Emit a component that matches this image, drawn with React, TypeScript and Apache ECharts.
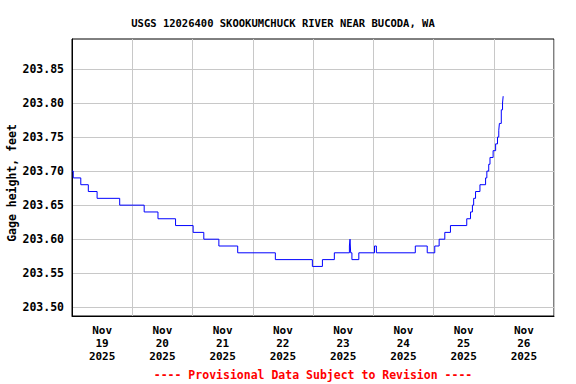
import React, { useEffect, useRef } from "react";
import * as echarts from "echarts";

const titleText = "USGS 12026400 SKOOKUMCHUCK RIVER NEAR BUCODA, WA";
const yAxisName = "Gage height, feet";
const footerText = "---- Provisional Data Subject to Revision ----";

const yTicks = [203.5, 203.55, 203.6, 203.65, 203.7, 203.75, 203.8, 203.85];
const yMin = 203.4872;
const yMax = 203.894;
const xStart = "2025-11-19 00:00";
const xEnd = "2025-11-27 00:00";

const times = [
  "2025-11-19 00:00", "2025-11-19 00:30", "2025-11-19 03:30", "2025-11-19 06:30",
  "2025-11-19 10:00", "2025-11-19 19:00", "2025-11-20 04:45", "2025-11-20 10:15",
  "2025-11-20 17:15", "2025-11-21 00:15", "2025-11-21 04:30", "2025-11-21 10:30",
  "2025-11-21 18:00", "2025-11-22 09:00", "2025-11-22 23:45", "2025-11-23 03:45",
  "2025-11-23 08:30", "2025-11-23 14:30", "2025-11-23 14:45", "2025-11-23 15:00",
  "2025-11-23 15:30", "2025-11-23 18:15", "2025-11-24 00:30", "2025-11-24 01:15",
  "2025-11-24 16:45", "2025-11-24 21:30", "2025-11-25 00:30", "2025-11-25 02:15",
  "2025-11-25 04:30", "2025-11-25 06:45", "2025-11-25 13:15", "2025-11-25 14:45",
  "2025-11-25 15:30", "2025-11-25 16:00", "2025-11-25 16:45", "2025-11-25 18:30",
  "2025-11-25 20:45", "2025-11-25 21:15", "2025-11-25 22:00", "2025-11-25 22:30",
  "2025-11-25 23:45", "2025-11-26 00:45", "2025-11-26 01:30", "2025-11-26 02:00",
  "2025-11-26 02:15", "2025-11-26 03:00", "2025-11-26 03:30", "2025-11-26 03:45",
];

const values = [
  203.70, 203.69, 203.68, 203.67,
  203.66, 203.65, 203.64, 203.63,
  203.62, 203.61, 203.60, 203.59,
  203.58, 203.57, 203.56, 203.57,
  203.58, 203.59, 203.60, 203.58,
  203.57, 203.58, 203.59, 203.58,
  203.59, 203.58, 203.59, 203.60,
  203.61, 203.62, 203.63, 203.64,
  203.65, 203.66, 203.67, 203.68,
  203.69, 203.70, 203.71, 203.72,
  203.73, 203.74, 203.75, 203.76,
  203.77, 203.79, 203.80, 203.81,
];

const MONTHS = ["Jan", "Feb", "Mar", "Apr", "May", "Jun", "Jul", "Aug", "Sep", "Oct", "Nov", "Dec"];
const DAY = 86400000;

function parseTime(s: string): number {
  const [d, t] = s.split(" ");
  const [y, m, dd] = d.split("-").map(Number);
  const [hh, mm] = t.split(":").map(Number);
  return Date.UTC(y, m - 1, dd, hh, mm);
}

const FONT = "'DejaVu Sans Mono', 'Liberation Mono', monospace";

export default function App() {
  const ref = useRef<HTMLDivElement>(null);
  useEffect(() => {
    if (!ref.current) return;
    const chart = echarts.init(ref.current, null, { renderer: "svg" });
    const xmin = parseTime(xStart);
    const xmax = parseTime(xEnd);
    const data = times.map((t, i) => [parseTime(t), values[i]]);
    chart.setOption({
      animation: false,
      backgroundColor: "#ffffff",
      title: {
        text: titleText,
        left: 278,
        top: 12,
        textAlign: "center",
        textStyle: { fontFamily: FONT, fontSize: 10.5, fontWeight: "bold", color: "#000" },
      },
      graphic: [
        {
          type: "text",
          x: 313,
          y: 375,
          style: {
            text: footerText,
            fill: "#ff0000",
            font: `bold 11.5px ${FONT}`,
            textAlign: "center",
            textVerticalAlign: "middle",
          },
        },
        {
          type: "text",
          x: 12,
          y: 183,
          rotation: Math.PI / 2,
          style: {
            text: yAxisName,
            fill: "#000",
            font: `bold 11.5px ${FONT}`,
            textAlign: "center",
            textVerticalAlign: "middle",
          },
        },
      ],
      grid: {
        left: 72,
        top: 39,
        width: 482,
        height: 277,
        show: true,
        borderColor: "#000",
        borderWidth: 1,
        containLabel: false,
        outerBoundsMode: "none",
      },
      xAxis: [
        {
          type: "value",
          min: xmin,
          max: xmax,
          interval: DAY,
          axisLine: { show: true, lineStyle: { color: "#000" } },
          axisTick: { show: false },
          axisLabel: { show: false },
          splitLine: { show: true, lineStyle: { color: "#c8c8c8", width: 1 } },
        },
        {
          type: "value",
          position: "bottom",
          min: xmin,
          max: xmax,
          interval: DAY / 2,
          axisLine: { show: false },
          axisTick: { show: false },
          splitLine: { show: false },
          axisLabel: {
            show: true,
            margin: 8,
            fontFamily: FONT,
            fontSize: 11,
            fontWeight: "bold",
            color: "#000",
            lineHeight: 13,
            formatter: (v: number) => {
              const rel = Math.round((v - xmin) / (DAY / 2));
              if (rel % 2 === 0) return "";
              const d = new Date(v);
              return `${MONTHS[d.getUTCMonth()]}\n${d.getUTCDate()}\n${d.getUTCFullYear()}`;
            },
          },
        },
      ],
      yAxis: {
        type: "value",
        min: yMin,
        max: yMax,
        axisLine: { show: true, lineStyle: { color: "#000" } },
        axisTick: { show: false, customValues: yTicks },
        axisLabel: {
          customValues: yTicks,
          margin: 8,
          fontFamily: FONT,
          fontSize: 11.5,
          fontWeight: "bold",
          color: "#000",
          formatter: (v: number) => v.toFixed(2),
        },
        splitLine: { show: true, lineStyle: { color: "#c8c8c8", width: 1 } },
      },
      series: [
        {
          type: "line",
          xAxisIndex: 0,
          data,
          step: "end",
          showSymbol: false,
          symbol: "none",
          lineStyle: { color: "#0000ff", width: 1 },
          clip: true,
        },
      ],
    });
    return () => chart.dispose();
  }, []);
  return (
    <div
      ref={ref}
      style={{ position: "absolute", left: 0, top: 0, width: 576, height: 384 }}
    />
  );
}
